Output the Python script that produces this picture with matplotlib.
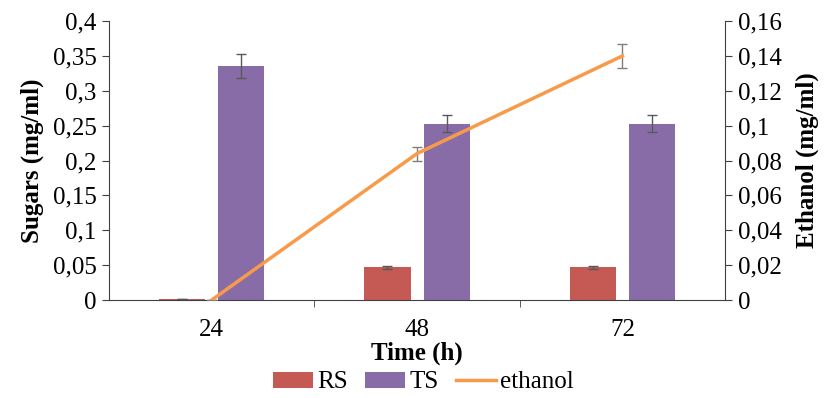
import numpy as np
import matplotlib.pyplot as plt
from matplotlib.lines import Line2D
from matplotlib.ticker import FuncFormatter, FixedLocator

times = ["24", "48", "72"]
rs = [0.001, 0.047, 0.047]
rs_err = [0.0, 0.002, 0.002]
ts = [0.335, 0.253, 0.253]
ts_err = [0.017, 0.012, 0.012]
ethanol = [0.0, 0.084, 0.140]
ethanol_err = [0.0, 0.004, 0.007]

plt.rcParams['font.family'] = ['Liberation Serif']
plt.rcParams['font.size'] = 18

def comma(v, pos):
    s = f"{v:.2f}".rstrip("0").rstrip(".")
    return s.replace(".", ",")

fig = plt.figure(figsize=(8.27, 3.98), dpi=100)
ax = fig.add_axes([0.1318, 0.2462, 0.745, 0.7010])
ax2 = ax.twinx()

x = np.arange(len(times))
w = 0.225
err_kw = dict(ecolor="#595959", capsize=3.5, elinewidth=1)
ax.bar(x - 0.144, rs, w, yerr=rs_err, color="#C55A55", label="RS", error_kw=err_kw)
ax.bar(x + 0.144, ts, w, yerr=ts_err, color="#886CA8", label="TS", error_kw=err_kw)
ax2.errorbar(x, ethanol, yerr=ethanol_err, color="#F79B4B", lw=2.5,
             ecolor="#7f7f7f", elinewidth=1, capsize=3.5)

ax.set_xlim(-0.5, 2.5)
ax.set_ylim(0, 0.4)
ax2.set_ylim(0, 0.16)
ax.set_yticks(np.arange(0, 0.401, 0.05))
ax2.set_yticks(np.arange(0, 0.161, 0.02))
ax.yaxis.set_major_formatter(FuncFormatter(comma))
ax2.yaxis.set_major_formatter(FuncFormatter(comma))

ax.set_xticks(x)
ax.set_xticklabels(times)
ax.xaxis.set_minor_locator(FixedLocator([0.5, 1.5]))
ax.tick_params(axis="x", which="major", length=0, pad=14)
ax.tick_params(axis="x", which="minor", length=5, direction="out", color="#404040")
ax.tick_params(axis="y", length=5, color="#404040", pad=4)
ax2.tick_params(axis="y", length=5, color="#404040", pad=4)

for a in (ax, ax2):
    a.spines["top"].set_visible(False)
    for s in ("left", "right", "bottom"):
        a.spines[s].set_color("#404040")
ax.spines["right"].set_visible(False)
ax2.spines["left"].set_visible(False)
ax2.spines["bottom"].set_visible(False)

ax.set_xlabel("Time (h)", fontweight="bold", labelpad=0)
ax.set_ylabel("Sugars (mg/ml)", fontweight="bold", labelpad=6)
ax2.set_ylabel("Ethanol (mg/ml)", fontweight="bold", labelpad=10)

h1, l1 = ax.get_legend_handles_labels()
eth_handle = Line2D([], [], color="#F79B4B", lw=2.5)
fig.legend(h1 + [eth_handle], l1 + ["ethanol"], loc="lower center",
           bbox_to_anchor=(0.512, -0.045), ncol=3, frameon=False,
           handlelength=1.6, handleheight=0.6, handletextpad=0.15,
           columnspacing=0.7, fontsize=18)

fig.savefig("out.png", dpi=100)
